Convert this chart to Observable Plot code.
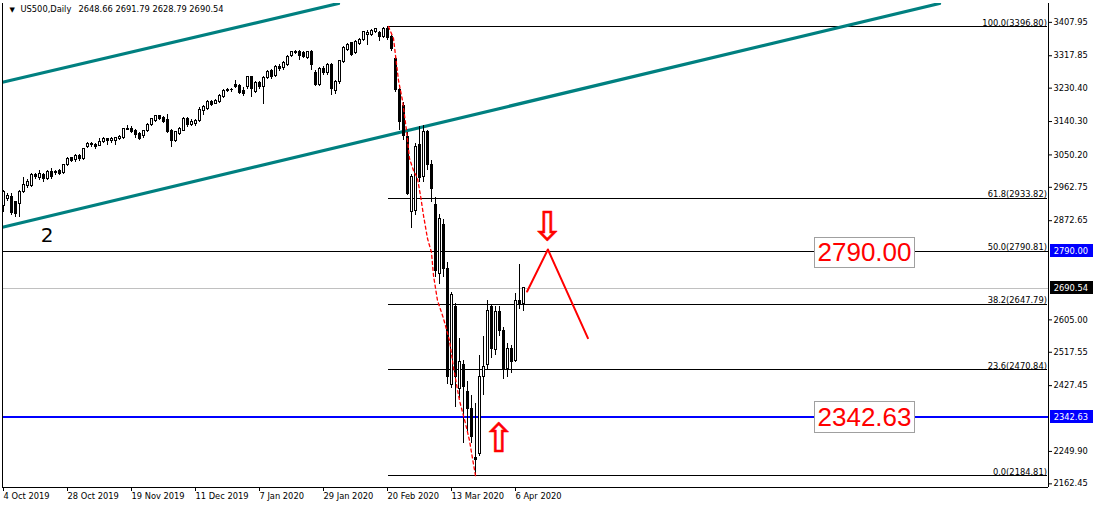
<!DOCTYPE html>
<html><head><meta charset="utf-8">
<script src="https://cdn.jsdelivr.net/npm/d3@7"></script>
<script src="https://cdn.jsdelivr.net/npm/@observablehq/plot@0.6"></script>
<style>
html,body{margin:0;padding:0;background:#fff;}
#chart{width:1094px;height:508px;overflow:hidden;}
</style></head><body><div id="chart"></div>
<script>
// ---- Candle data (bar index 0 = 4 Oct 2019, one bar per trading day) ----
const opens = [2912,2930,2936,2923,2918,2950,2966,2966,2996,2988,2996,2985,3005,3002,3008,3002,3023,3041,3036,3047,3038,3071,3080,3078,3075,3084,3092,3087,3089,3092,3095,3121,3121,3116,3107,3102,3116,3130,3141,3154,3150,3145,3116,3089,3108,3116,3146,3130,3134,3141,3170,3174,3192,3188,3192,3206,3222,3226,3240,3237,3222,3233,3260,3221,3244,3234,3258,3276,3264,3288,3285,3292,3318,3325,3328,3324,3312,3327,3270,3240,3283,3270,3292,3222,3246,3301,3333,3351,3324,3350,3360,3373,3375,3382,3378,3369,3391,3369,3308,3225,3183,3099,2896,2898,3076,2991,3111,3024,2916,2729,2862,2743,2428,2639,2419,2482,2410,2365,2232,2243,2450,2482,2639,2525,2626,2576,2473,2527,2495,2657,2648.66];
const highs = [2953,2945,2945,2925,2955,2990,2985,3000,3001,3008,3000,3008,3013,3008,3012,3025,3044,3044,3050,3050,3068,3085,3084,3080,3095,3096,3095,3096,3098,3102,3122,3130,3126,3120,3110,3115,3136,3148,3156,3156,3154,3159,3118,3114,3123,3150,3150,3145,3146,3178,3183,3196,3197,3200,3212,3226,3229,3230,3251,3241,3232,3262,3263,3248,3249,3262,3278,3281,3292,3294,3301,3318,3330,3331,3331,3328,3330,3331,3279,3287,3288,3297,3297,3252,3306,3343,3352,3354,3358,3365,3384,3385,3388,3392,3383,3394,3396.8,3372,3312,3230,3193,3112,2997,3081,3126,3130,3117,3036,2935,2890,2875,2760,2680,2650,2554,2495,2440,2400,2378,2509,2560,2657,2645,2640,2640,2585,2540,2535,2676,2754,2691.79];
const lows = [2896,2925,2888,2882,2882,2945,2960,2962,2985,2980,2977,2980,2985,2995,2995,2998,3020,3030,3030,3032,3035,3068,3070,3066,3072,3080,3075,3082,3075,3088,3092,3115,3108,3095,3088,3095,3112,3127,3138,3144,3135,3108,3070,3085,3103,3113,3125,3126,3128,3138,3157,3170,3182,3185,3188,3203,3219,3220,3230,3212,3208,3228,3204,3215,3228,3185,3254,3255,3258,3274,3279,3288,3314,3322,3306,3310,3308,3279,3234,3236,3265,3265,3211,3212,3241,3298,3330,3315,3320,3346,3356,3346,3370,3378,3355,3365,3360,3328,3220,3117,3090,2940,2851,2887,2977,2977,3009,2923,2720,2700,2720,2430,2420,2369,2392,2270,2300,2270,2184.81,2236,2400,2470,2500,2510,2560,2445,2450,2460,2490,2633,2628.79];
const closes = [2951,2938,2894,2891,2951,2969,2976,2996,2990,2999,2985,3004,2990,3005,3000,3022,3040,3035,3047,3038,3066,3080,3076,3072,3085,3092,3087,3092,3095,3098,3119,3117,3113,3105,3093,3114,3132,3146,3154,3148,3138,3112,3089,3111,3120,3147,3130,3140,3143,3172,3179,3192,3186,3197,3208,3222,3225,3225,3233,3217,3215,3260,3229,3244,3233,3258,3274,3261,3288,3283,3297,3315,3327,3328,3318,3315,3327,3292,3240,3283,3270,3294,3229,3246,3303,3339,3348,3321,3354,3360,3381,3380,3384,3390,3369,3390,3366,3337,3225,3139,3102,2946,2991,3072,2988,3111,3022,2959,2738,2878,2743,2450,2671,2450,2491,2423,2365,2288,2226,2452,2479,2630,2527,2626,2576,2473,2527,2491,2657,2645,2690.54];

// ---- Axes ----
const xTickIdx = [0,16,32,48,64,80,96,112,128];
const xTickLabels = ["4 Oct 2019","28 Oct 2019","19 Nov 2019","11 Dec 2019","7 Jan 2020","29 Jan 2020","20 Feb 2020","13 Mar 2020","6 Apr 2020"];
const yTicks = [3407.95,3317.85,3230.40,3140.30,3050.20,2962.75,2872.65,2605.00,2517.55,2427.45,2249.90,2162.45];

// ---- Fibonacci retracement ----
const fibLevels = ["100.0","61.8","50.0","38.2","23.6","0.0"];
const fibPrices = [3396.80,2933.82,2790.81,2647.79,2470.84,2184.81];
const fibStartIdx = 96.25;

// ---- Trend channel (teal) ----
const channelUpperIdx = [-0.25, 83.75];
const channelUpperPrice = [3246.5, 3458.9];
const channelLowerIdx = [-0.25, 234];
const channelLowerPrice = [2855.1, 3458.9];

// ---- Red dotted swing line ----
const swingIdx = [96.25,97.5,98.75,99.75,100.75,101.5,102.5,103.5,104.25,105,106,107,107.5,108.5,110,111.5,112.5,114,115.5,116.5,117.25,118];
const swingPrice = [3396.8,3364.4,3251.1,3197.1,3116.1,3040.5,3008.1,2986.6,2940.7,2886.7,2824.6,2786.8,2724.7,2657.3,2608.7,2549.3,2476.4,2387.3,2325.3,2279.4,2230.8,2184.81];

// ---- Red projection ----
const projIdx = [130.9,136.1,146.1];
const projPrice = [2681.6,2794.9,2555.5];

// ---- Levels & labels ----
const levelBlack = 2790.00;
const levelBlue = 2342.63;
const levelBid = 2690.54;
const bigLabels = ["2790.00","2342.63"];
const bigLabelIdx = [215.25,215.25];
const bigLabelPrice = [2787,2341.5];
const bigBoxLow = [2746.3,2301];
const bigBoxHigh = [2827.3,2382];
const arrowGlyphs = ["\u21E9","\u21E7"];
const arrowIdx = [136,123.9];
const arrowPrice = [2854.3,2282.1];
const waveLabel = "2";
const waveIdx = 10.9, wavePrice = 2832.7;
const symbolText = "US500,Daily";
const ohlcText = "2648.66 2691.79 2628.79 2690.54";

const XMIN = -0.25, XMAX = 261.25, YMIN = 2152.56, YMAX = 3458.88;

const candles = opens.map((o, i) => ({i, o, h: highs[i], l: lows[i], c: closes[i]}));
const line = (xs, ys) => xs.map((x, k) => ({x, y: ys[k]}));
const fib = fibPrices.map((p, k) => ({p, t: `${fibLevels[k]}(${p.toFixed(2)})`}));
const axisBoxes = [
  {p: levelBlack, t: levelBlack.toFixed(2), bg: "#0000ff"},
  {p: levelBid, t: levelBid.toFixed(2), bg: "#000000"},
  {p: levelBlue, t: levelBlue.toFixed(2), bg: "#0000ff"}
];
const bigs = bigLabels.map((t, k) => ({t, x: bigLabelIdx[k], y: bigLabelPrice[k], y1: bigBoxLow[k], y2: bigBoxHigh[k]}));
const arrows = arrowGlyphs.map((t, k) => ({t, x: arrowIdx[k], y: arrowPrice[k]}));

const chart = Plot.plot({
  width: 1094, height: 508,
  marginLeft: 2, marginRight: 46, marginTop: 3, marginBottom: 21,
  x: {domain: [XMIN, XMAX]},
  y: {domain: [YMIN, YMAX]},
  style: {fontFamily: "DejaVu Sans", fontSize: "8px", background: "#fff", overflow: "visible"},
  marks: [
    // horizontal levels
    Plot.ruleY([levelBid], {stroke: "#c0c0c0", shapeRendering: "crispEdges"}),
    Plot.ruleY([levelBlack], {stroke: "#000", shapeRendering: "crispEdges"}),
    Plot.ruleY([levelBlue], {stroke: "#0000ff", strokeWidth: 2, shapeRendering: "crispEdges"}),
    // fibonacci
    Plot.ruleY(fib, {y: "p", x1: fibStartIdx, x2: XMAX - 0.2, stroke: "#000", shapeRendering: "crispEdges"}),
    Plot.text(fib, {y: "p", x: XMAX - 0.4, text: "t", textAnchor: "end", lineAnchor: "bottom", dy: -1, fill: "#000", fontSize: 8.3}),
    // channel
    Plot.line(line(channelUpperIdx, channelUpperPrice), {x: "x", y: "y", stroke: "#008080", strokeWidth: 3.2, clip: "frame"}),
    Plot.line(line(channelLowerIdx, channelLowerPrice), {x: "x", y: "y", stroke: "#008080", strokeWidth: 3.2, clip: "frame"}),
    // candles
    Plot.ruleX(candles, {x: "i", y1: "l", y2: "h", stroke: "#000", shapeRendering: "crispEdges"}),
    Plot.rect(candles, {x1: d => d.i - 0.25, x2: d => d.i + 0.25, y1: "o", y2: "c", fill: d => d.c >= d.o ? "#fff" : "#000", stroke: "#000", shapeRendering: "crispEdges"}),
    // red swing dotted
    Plot.line(line(swingIdx, swingPrice), {x: "x", y: "y", stroke: "#ff0000", strokeWidth: 1.3, strokeDasharray: "3,3"}),
    // projection
    Plot.line(line(projIdx, projPrice), {x: "x", y: "y", stroke: "#ff0000", strokeWidth: 2}),
    // arrows
    Plot.text(arrows, {x: "x", y: "y", text: "t", fontSize: 40, fill: "#ff0000", stroke: "#ff0000", strokeWidth: 0.6, lineAnchor: "middle", fontFamily: "DejaVu Sans"}),
    // big labels
    Plot.rect(bigs, {x1: d => d.x - 12.5, x2: d => d.x + 12.5, y1: "y1", y2: "y2", fill: "#fff", stroke: "#a0a0a0", shapeRendering: "crispEdges"}),
    Plot.text(bigs, {x: "x", y: "y", text: "t", fontSize: 26, fill: "#ff0000", fontFamily: "Liberation Sans", lineAnchor: "middle"}),
    // wave label
    Plot.text([waveLabel], {x: waveIdx, y: wavePrice, text: d => d, fontSize: 20, fill: "#000", fontFamily: "DejaVu Sans"}),
    // frame lines
    Plot.ruleX([XMIN], {stroke: "#000", shapeRendering: "crispEdges"}),
    Plot.ruleX([XMAX], {stroke: "#000", shapeRendering: "crispEdges"}),
    Plot.ruleY([YMIN], {x1: XMIN, x2: XMAX, stroke: "#000", shapeRendering: "crispEdges"}),
    // axes
    Plot.axisY(yTicks, {anchor: "right", tickSize: 3, tickPadding: 2, tickFormat: d => d.toFixed(2), label: null, fontSize: 8.3}),
    Plot.axisX(xTickIdx, {anchor: "bottom", tickSize: 4, tickPadding: 2, tickFormat: d => xTickLabels[xTickIdx.indexOf(d)], textAnchor: "start", dx: 0, label: null, fontSize: 8.3}),
    // axis price boxes
    Plot.rect(axisBoxes, {x1: XMAX + 0.5, x2: XMAX + 11.3, y1: d => d.p - 17.5, y2: d => d.p + 17.5, fill: "bg", shapeRendering: "crispEdges"}),
    Plot.text(axisBoxes, {x: XMAX + 1.3, y: "p", text: "t", fill: "#fff", textAnchor: "start", fontSize: 8.3}),
    // title
    Plot.text(["\u25BC"], {frameAnchor: "top-left", dx: 7, dy: 4, text: d => d, fontSize: 7, textAnchor: "start", lineAnchor: "top"}),
    Plot.text([symbolText], {frameAnchor: "top-left", dx: 18, dy: 3, text: d => d, fontSize: 8.3, textAnchor: "start", lineAnchor: "top"}),
    Plot.text([ohlcText], {frameAnchor: "top-left", dx: 76, dy: 3, text: d => d, fontSize: 8.3, textAnchor: "start", lineAnchor: "top"})
  ]
});
document.getElementById("chart").appendChild(chart);
</script>
</body></html>
